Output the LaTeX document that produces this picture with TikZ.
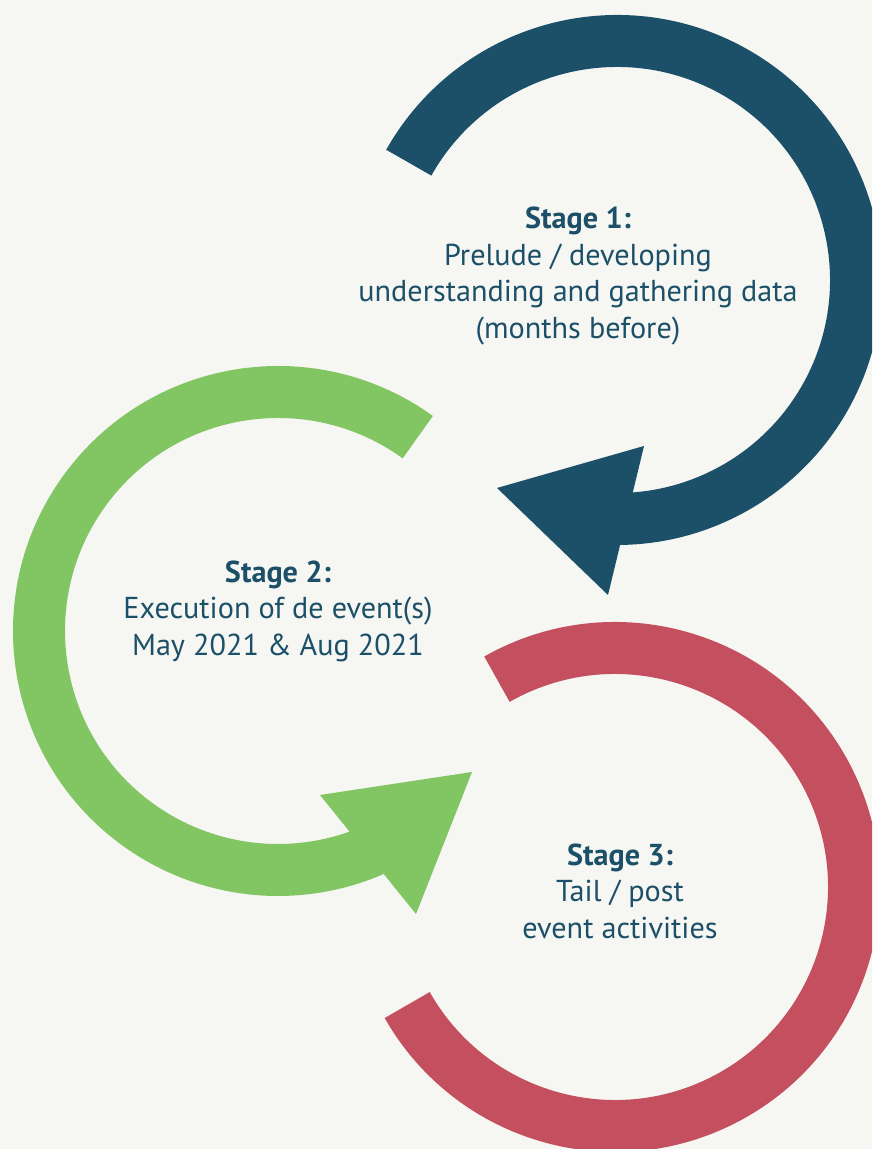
\documentclass[tikz,border=0pt]{standalone}
\usepackage{fontspec}
\setmainfont{PT Sans}
\definecolor{stageteal}{HTML}{1B5068}
\definecolor{stagegreen}{HTML}{82C563}
\definecolor{stagered}{HTML}{C44F5F}
\definecolor{paper}{HTML}{F6F6F2}
\begin{document}
\begin{tikzpicture}[x=0.02cm,y=0.02cm,
    ring/.style={line width=1.04cm},
    stagetext/.style={text=stageteal,align=center,font=\fontsize{17.2}{20.8}\selectfont}]
    \fill[paper] (0,0) rectangle (872,1149);
    \clip (0,0) rectangle (872,1149);
    \coordinate (c1) at (617,869);
    \coordinate (c2) at (278,518);
    \coordinate (c3) at (615,262);
    % stage 1: teal ring with head
    \draw[ring,stageteal] ([shift={(150.6:239)}]c1) arc[start angle=150.6,end angle=-90,radius=239];
    \fill[stageteal] (497,661)--(644,703)--(608,554)--cycle;
    % stage 2: green ring with head
    \draw[ring,stagegreen] ([shift={(54.2:239)}]c2) arc[start angle=54.2,end angle=293.5,radius=239];
    \fill[stagegreen] (320,354)--(472,377)--(416,235)--cycle;
    % stage 3: red ring, no head
    \draw[ring,stagered] ([shift={(119.6:239)}]c3) arc[start angle=119.6,end angle=-150.4,radius=239];

    \node[stagetext] (stage1) at (578,873) {\textbf{Stage 1:}\\Prelude / developing\\understanding and gathering data\\(months before)};
    \node[stagetext] (stage2) at (278,538) {\textbf{Stage 2:}\\Execution of de event(s)\\May 2021 \& Aug 2021};
    \node[stagetext] (stage3) at (620,258) {\textbf{Stage 3:}\\Tail / post\\event activities};
\end{tikzpicture}
\end{document}
